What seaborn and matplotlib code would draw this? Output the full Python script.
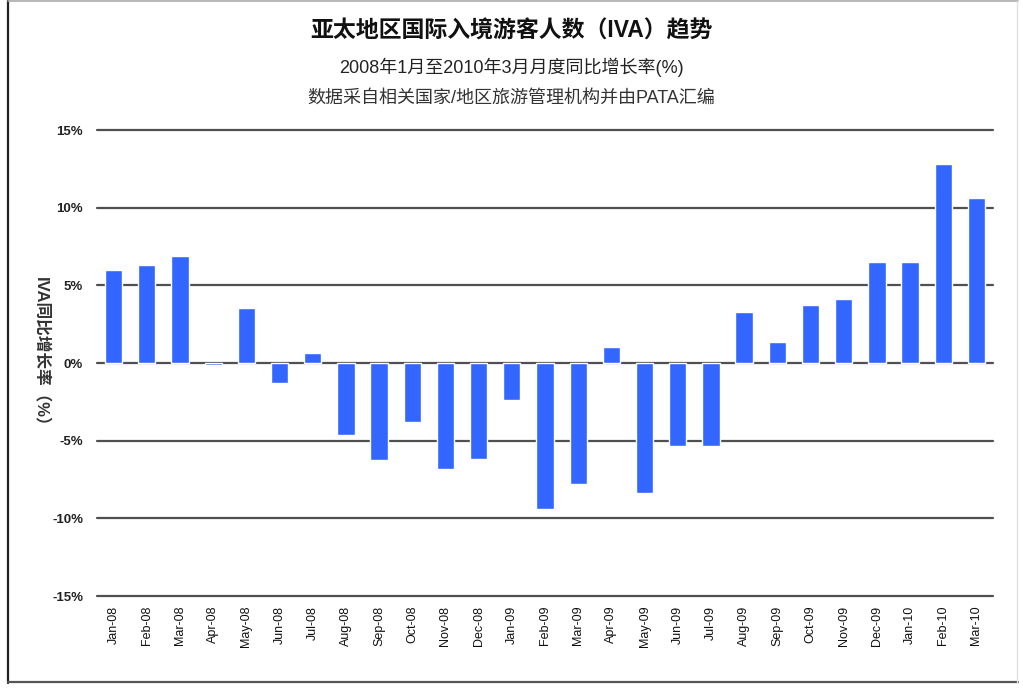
import matplotlib
matplotlib.use("Agg")
import matplotlib.pyplot as plt
import seaborn as sns
import pandas as pd
from matplotlib.lines import Line2D

# monthly year-on-year growth of international visitor arrivals (%)
months = ["Jan-08", "Feb-08", "Mar-08", "Apr-08", "May-08", "Jun-08", "Jul-08",
          "Aug-08", "Sep-08", "Oct-08", "Nov-08", "Dec-08", "Jan-09", "Feb-09",
          "Mar-09", "Apr-09", "May-09", "Jun-09", "Jul-09", "Aug-09", "Sep-09",
          "Oct-09", "Nov-09", "Dec-09", "Jan-10", "Feb-10", "Mar-10"]
growth = [6.0, 6.3, 6.9, -0.1, 3.55, -1.3, 0.65,
          -4.65, -6.25, -3.8, -6.85, -6.2, -2.35, -9.4,
          -7.8, 1.0, -8.4, -5.35, -5.35, 3.3, 1.35,
          3.75, 4.15, 6.5, 6.5, 12.8, 10.65]
yticks = [-15, -10, -5, 0, 5, 10, 15]

df = pd.DataFrame({"month": months, "growth": growth})

sns.set_style("white")
plt.rcParams['font.family'] = ['Liberation Sans', 'Noto Sans CJK SC', 'DejaVu Sans']

fig = plt.figure(figsize=(10.23, 6.88), dpi=100)
ax = fig.add_axes([0.0948, 0.1337, 0.8759, 0.6773])

sns.barplot(data=df, x="month", y="growth", color="#3366FF", saturation=1,
            width=0.52, ax=ax, zorder=3)

# horizontal gridlines
for v in yticks:
    ax.axhline(v, color="#505050", lw=1.6, zorder=2, clip_on=False)

ax.set_ylim(-15, 15)
ax.set_xlim(-0.5, len(months) - 0.5)
ax.set_yticks(yticks)
ax.set_yticklabels([f"{v}%" for v in yticks], fontsize=9.5, fontweight="bold",
                   color="#222222")
ax.tick_params(axis="y", length=0, pad=10)
ax.tick_params(axis="x", length=0, pad=7)
ax.set_xticks(range(len(months)))
ax.set_xticklabels(months, rotation=90, fontsize=9, color="#111111")
for s in ax.spines.values():
    s.set_visible(False)
ax.set_xlabel("")
ax.set_ylabel("IVA同比增长率（%）", rotation=270, fontsize=12, fontweight="bold",
              color="#333333")
ax.yaxis.set_label_coords(-0.072, 0.515)

fig.text(0.5, 0.955, "亚太地区国际入境游客人数（IVA）趋势", ha="center", va="center",
         fontsize=16.5, fontweight="bold", color="#111111")
fig.text(0.5, 0.902, "2008年1月至2010年3月月度同比增长率(%)", ha="center", va="center",
         fontsize=13, color="#222222")
fig.text(0.5, 0.858, "数据采自相关国家/地区旅游管理机构并由PATA汇编", ha="center",
         va="center", fontsize=13, color="#333333")

# outer frame
W, H = 1023, 688
def fline(x0, y0, x1, y1, c, lw):
    fig.add_artist(Line2D([x0 / W, x1 / W], [1 - y0 / H, 1 - y1 / H],
                          transform=fig.transFigure, color=c, lw=lw))
fline(8, 0, 8, 683, "#222222", 1.6)
fline(8, 682, 1018, 682, "#555555", 1.6)
fline(8, 1, 1018, 1, "#aaaaaa", 1.2)
fline(1017, 1, 1017, 682, "#e0e0e0", 1.0)

fig.savefig("out.png", dpi=100)
